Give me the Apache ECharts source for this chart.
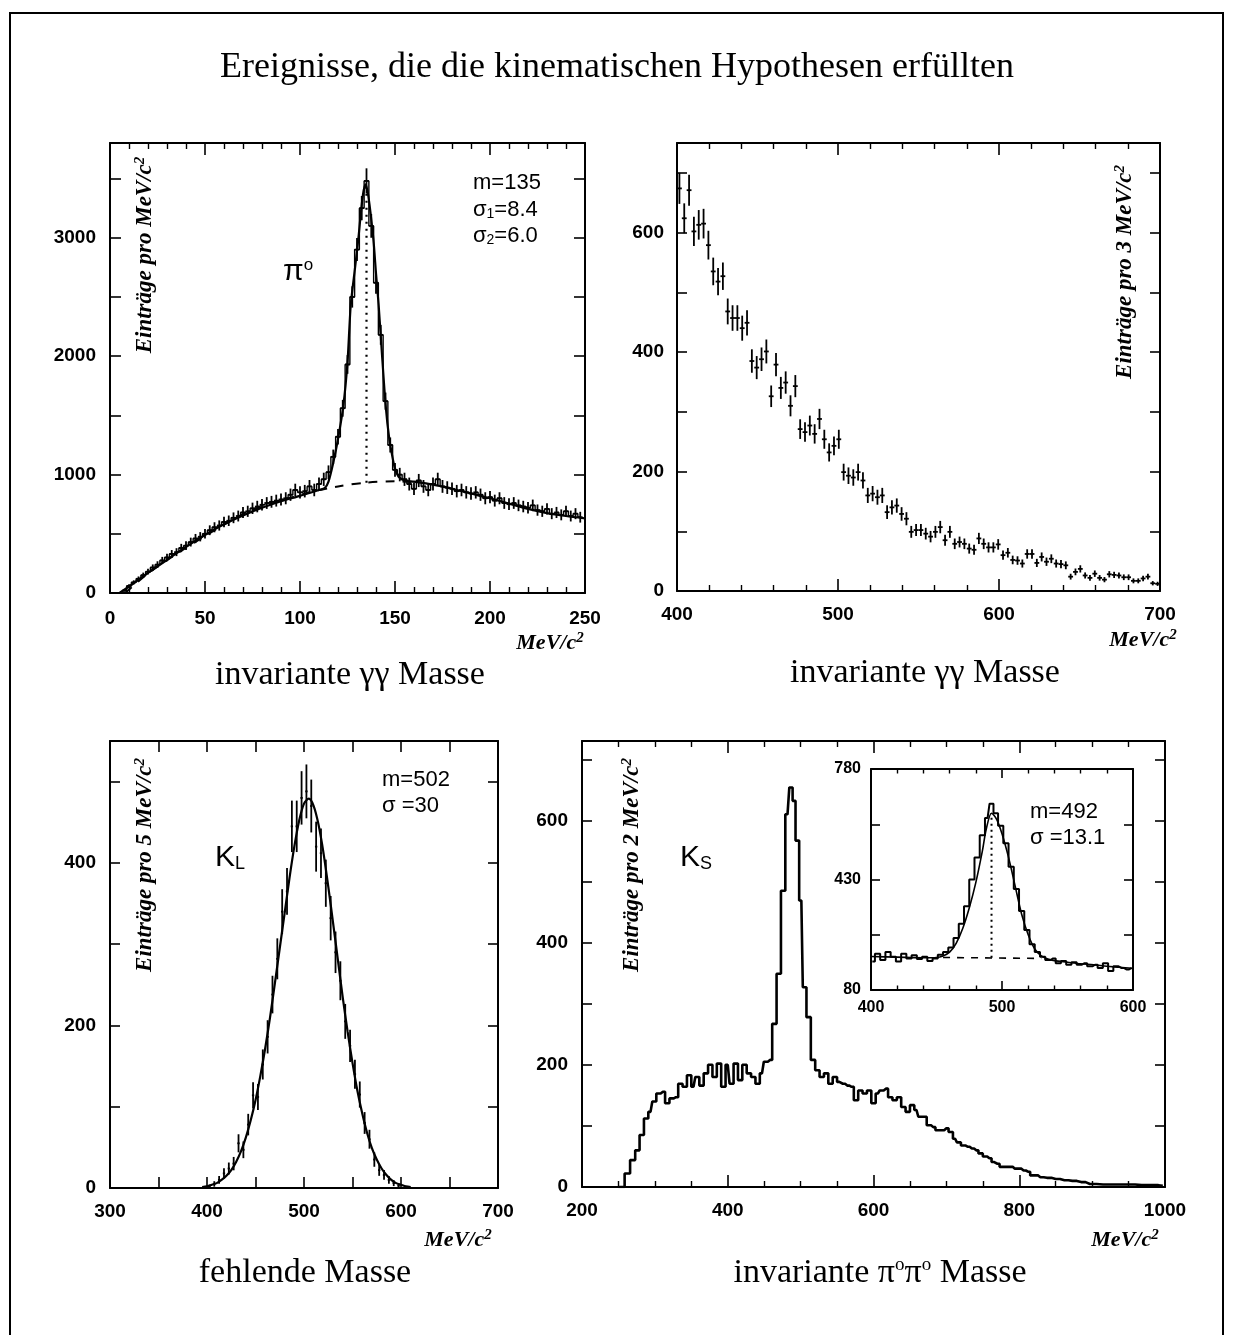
<!DOCTYPE html>
<html><head><meta charset="utf-8">
<script src="https://cdn.jsdelivr.net/npm/echarts@6/dist/echarts.min.js"></script>
<style>html,body{margin:0;padding:0;background:#fff}#c{width:1234px;height:1335px}</style>
</head><body><div id="c"></div><script>
// ---------- Texts ----------
const titleText = 'Ereignisse, die die kinematischen Hypothesen erfüllten';

// ---------- Panel 1: invariant gamma-gamma mass (pi0) ----------
const pi0Mass = [7.5,10,12.5,15,17.5,20,22.5,25,27.5,30,32.5,35,37.5,40,42.5,45,47.5,50,52.5,55,57.5,60,62.5,65,67.5,70,72.5,75,77.5,80,82.5,85,87.5,90,92.5,95,97.5,100,102.5,105,107.5,110,112.5,115,117.5,120,122.5,125,127.5,130,132.5,135,137.5,140,142.5,145,147.5,150,152.5,155,157.5,160,162.5,165,167.5,170,172.5,175,177.5,180,182.5,185,187.5,190,192.5,195,197.5,200,202.5,205,207.5,210,212.5,215,217.5,220,222.5,225,227.5,230,232.5,235,237.5,240,242.5,245,247.5];
const pi0Counts = [20,60,90,120,150,180,215,240,275,300,330,345,380,400,430,460,475,500,530,555,570,600,610,635,650,680,690,715,730,745,760,770,780,790,800,830,870,850,860,900,870,920,960,1020,1150,1320,1560,1930,2500,2900,3250,3480,3100,2620,2180,1620,1250,1040,1000,960,920,880,950,900,870,920,960,900,890,880,860,870,850,840,850,830,800,810,780,800,760,750,760,740,730,720,740,700,690,710,670,680,660,690,650,670,640];
const pi0FitMass = [5,10,20,30,40,50,60,70,80,90,100,105,110,113,115,117.5,120,122.8,125,126.7,129,130.7,133,134.5,136,138.6,140,141.4,143,145.1,147,149,150,152,155,160,170,180,190,200,210,220,230,240,250];
const pi0FitCounts = [0,55,170,280,390,490,580,655,720,775,820,845,870,885,940,1100,1300,1580,1950,2430,2750,2990,3350,3450,3350,2990,2700,2430,2050,1580,1300,1120,1050,980,950,940,915,880,840,800,755,710,675,650,630];
const pi0BgMass = [8,20,35,50,70,90,105,120,135,150,160];
const pi0BgCounts = [0,165,330,480,665,780,850,900,932,943,935];
const pi0PeakLine = [[135, 932], [135, 3420]];

// ---------- Panel 2: invariant gamma-gamma mass 400-700 (3 MeV bins) ----------
const ggBinStart = 401.5, ggBinWidth = 3;
const ggCounts = [674,624,671,602,613,615,579,535,518,527,468,457,457,440,449,385,374,388,401,326,379,340,349,310,343,271,266,277,263,288,254,232,243,254,199,193,190,199,185,160,163,157,160,132,140,143,129,121,99,102,102,96,91,99,107,85,99,79,82,79,71,69,88,79,73,73,78,60,64,52,51,46,62,62,47,57,49,54,46,45,43,24,32,37,26,22,29,22,19,28,27,26,23,23,17,17,21,24,13,12];

// ---------- Panel 3: missing mass (K_L), 5 MeV bins ----------
const klMass = [402.5,407.5,412.5,417.5,422.5,427.5,432.5,437.5,442.5,447.5,452.5,457.5,462.5,467.5,472.5,477.5,482.5,487.5,492.5,497.5,502.5,507.5,512.5,517.5,522.5,527.5,532.5,537.5,542.5,547.5,552.5,557.5,562.5,567.5,572.5,577.5,582.5,587.5,592.5,597.5];
const klCounts = [2,5,10,18,24,30,55,47,78,114,112,152,186,238,282,340,365,445,445,480,488,470,420,412,375,332,290,255,205,175,140,115,80,60,35,22,16,10,6,3];
const klFitMass = [395,400,405,410,415,420,425,430,435,440,445,450,455,460,465,470,475,480,485,490,495,500,505,510,515,520,525,530,535,540,545,550,555,560,565,570,575,580,585,590,595,600,605,610];
const klFitCounts = [1,2,4,6,10,15,22,32,45,62,83,108,138,172,210,252,295,338,381,420,452,473,479,470,447,413,371,326,280,234,192,154,120,92,68,49,35,24,16,10,6,4,2,1];

// ---------- Panel 4: invariant pi0 pi0 mass (K_S) ----------
const ksMass = [250,255,262,270,276,282,288,294,299,305,311,317,323,329,335,341,347,353,358,364,370,376,382,388,394,400,405,411,417,423,429,435,441,447,452,458,464,470,476,482,487,491,495,501,505,511,517,523,529,535,541,547,553,558,564,570,576,582,588,594,600,606,611,617,623,629,635,641,647,653,659,664,670,676,682,688,694,700,706,712,717,723,729,735,741,747,753,759,765,770,776,782,788,794,800,806,812,818,823,829,838,850,862,873,885,897,915,932,950,968,985,997];
const ksCounts = [0,0,22,44,60,85,112,123,140,153,156,137,145,147,169,164,183,164,180,166,186,200,180,202,164,200,169,202,175,200,186,180,169,186,205,208,267,349,485,610,654,632,567,469,327,278,208,191,180,186,169,180,172,169,166,164,142,158,153,158,137,153,158,161,147,142,147,131,123,134,126,115,115,101,98,93,93,96,90,79,73,68,66,63,60,55,50,47,41,38,33,33,33,30,30,27,25,19,19,16,15,13,11,10,8,5,4,4,4,3,3,2];

// ---------- Inset: K_S peak region ----------
const insetMass = [401,405,409,413,417,421,425,429,433,437,441,445,449,453,457,461,465,469,473,477,481,485,489,492,495,499,503,507,511,515,519,523,527,531,535,539,543,547,551,555,559,563,567,571,575,579,583,587,591,595,599];
const insetCounts = [170,195,175,200,185,170,195,180,190,178,185,172,180,192,200,215,245,290,345,430,500,570,625,670,640,600,545,470,400,330,270,225,200,185,175,180,165,172,160,168,160,165,155,160,150,165,140,155,150,145,150];
const insetFitMass = [400,420,440,450,455,460,465,470,475,480,485,488,492,496,500,505,510,515,520,525,530,535,540,550,560,570,580,590,600];
const insetFitCounts = [186,184,182,183,188,200,228,275,340,420,520,590,640,620,575,500,410,320,255,210,188,178,173,168,163,160,155,152,148];
const insetBgMass = [455, 530];
const insetBgCounts = [183, 180];
const insetPeakLine = [[492, 182], [492, 640]];

// ---------- Tick label sets ----------
const p1YLabels = [0,1000,2000,3000];
const p2YLabels = [0,200,400,600];
const p3YLabels = [0,200,400];
const p4YLabels = [0,200,400,600];
const insetYLabels = [80,430,780];

// ---------- helpers ----------
const SANS = '"Liberation Sans", Arial, sans-serif';
const SERIF = '"Liberation Serif", "Times New Roman", serif';
const pairs = (xs, ys) => xs.map((x, i) => [x, ys[i]]);

function errRender(params, api) {
  const x = api.value(0), y = api.value(1), e = api.value(2), hw = api.value(3);
  const a = api.coord([x, y + e]), b = api.coord([x, Math.max(y - e, 0)]);
  const l = api.coord([x - hw, y]), r = api.coord([x + hw, y]);
  const st = { stroke: '#000', lineWidth: 1.8 };
  return { type: 'group', children: [
    { type: 'line', shape: { x1: a[0], y1: a[1], x2: b[0], y2: b[1] }, style: st },
    { type: 'line', shape: { x1: l[0], y1: l[1], x2: r[0], y2: r[1] }, style: st }
  ]};
}

const grids = [
  { left: 110, top: 143, width: 475, height: 450 },
  { left: 677, top: 143, width: 483, height: 448 },
  { left: 110, top: 741, width: 388, height: 447 },
  { left: 582, top: 741, width: 583, height: 446 },
  { left: 871, top: 769, width: 262, height: 221 }
];

function xAxes(g, min, max, interval, minorSplit, labelSet, fs, tickLen, margin) {
  const base = {
    gridIndex: g, type: 'value', min, max, interval,
    axisLine: { show: true, onZero: false, lineStyle: { color: '#000', width: 2 } },
    axisTick: { show: true, inside: true, length: tickLen, lineStyle: { color: '#000', width: 1.6 } },
    minorTick: { show: minorSplit > 1, splitNumber: minorSplit, length: tickLen / 2, lineStyle: { color: '#000', width: 1.4 } },
    splitLine: { show: false }
  };
  return [
    Object.assign({}, base, { position: 'bottom',
      axisLabel: { show: true, margin: margin, color: '#000', fontFamily: SANS, fontWeight: 'bold', fontSize: fs,
        showMinLabel: true, showMaxLabel: true,
        formatter: v => (labelSet === null || labelSet.indexOf(v) >= 0) ? String(v) : '' } }),
    Object.assign({}, base, { position: 'top', axisLabel: { show: false } })
  ];
}
function yAxes(g, min, max, interval, labelSet, fs, tickLen, margin) {
  const base = {
    gridIndex: g, type: 'value', min, max, interval,
    axisLine: { show: true, onZero: false, lineStyle: { color: '#000', width: 2 } },
    axisTick: { show: true, inside: true, length: tickLen, lineStyle: { color: '#000', width: 1.6 } },
    splitLine: { show: false }
  };
  return [
    Object.assign({}, base, { position: 'left',
      axisLabel: { show: true, margin: margin, color: '#000', fontFamily: SANS, fontWeight: 'bold', fontSize: fs,
        showMaxLabel: labelSet.indexOf(max) >= 0,
        formatter: v => labelSet.indexOf(v) >= 0 ? String(v) : '' } }),
    Object.assign({}, base, { position: 'right', axisLabel: { show: false } })
  ];
}

const xAxis = [].concat(
  xAxes(0, 0, 250, 50, 5, null, 19, 12, 16),
  xAxes(1, 400, 700, 100, 5, null, 19, 12, 14),
  xAxes(2, 300, 700, 50, 1, [300,400,500,600,700], 19, 11, 14),
  xAxes(3, 200, 1000, 200, 4, null, 19, 12, 14),
  xAxes(4, 400, 600, 100, 5, null, 16, 9, 10)
);
const yAxis = [].concat(
  yAxes(0, 0, 3800, 500, p1YLabels, 19, 11, 14),
  yAxes(1, 0, 750, 100, p2YLabels, 19, 10, 13),
  yAxes(2, 0, 550, 100, p3YLabels, 19, 10, 14),
  yAxes(3, 0, 730, 100, p4YLabels, 19, 10, 14),
  yAxes(4, 80, 780, 175, insetYLabels, 16, 9, 10)
);
// axis index helper: grid g uses xAxis 2g (bottom) and yAxis 2g (left)
const ax = g => ({ xAxisIndex: 2 * g, yAxisIndex: 2 * g });

const lineSeries = (g, data, opts) => Object.assign({ type: 'line', data, showSymbol: false, silent: true,
  lineStyle: { color: '#000', width: 2 }, z: 3 }, ax(g), opts || {});

const series = [
  // panel 1
  Object.assign({ type: 'custom', renderItem: errRender, clip: true, silent: true,
    data: pi0Mass.map((m, i) => [m, pi0Counts[i], Math.sqrt(pi0Counts[i]) * 1.8, 1.25]) }, ax(0)),
  lineSeries(0, pairs(pi0Mass, pi0Counts), { step: 'middle', lineStyle: { color: '#000', width: 1.4 } }),
  lineSeries(0, pairs(pi0FitMass, pi0FitCounts), { smooth: 0.25, lineStyle: { color: '#000', width: 2.2 } }),
  lineSeries(0, pairs(pi0BgMass, pi0BgCounts), { smooth: 0.3, lineStyle: { color: '#000', width: 2, type: [9, 8] } }),
  lineSeries(0, pi0PeakLine, { lineStyle: { color: '#000', width: 2.2, type: [2, 5] } }),
  // panel 2
  Object.assign({ type: 'custom', renderItem: errRender, clip: true, silent: true,
    data: ggCounts.map((c, i) => [ggBinStart + i * ggBinWidth, c, Math.sqrt(c), 1.5]) }, ax(1)),
  // panel 3
  Object.assign({ type: 'custom', renderItem: errRender, clip: true, silent: true,
    data: klMass.map((m, i) => [m, klCounts[i], Math.sqrt(klCounts[i]) * 1.5, 1.2]) }, ax(2)),
  lineSeries(2, pairs(klFitMass, klFitCounts), { smooth: 0.3, lineStyle: { color: '#000', width: 2.2 } }),
  // panel 4
  lineSeries(3, pairs(ksMass, ksCounts), { step: 'middle', lineStyle: { color: '#000', width: 2.6 } }),
  // inset
  lineSeries(4, pairs(insetMass, insetCounts), { step: 'middle', lineStyle: { color: '#000', width: 2 } }),
  lineSeries(4, pairs(insetFitMass, insetFitCounts), { smooth: 0.3, lineStyle: { color: '#000', width: 1.6 } }),
  lineSeries(4, pairs(insetBgMass, insetBgCounts), { lineStyle: { color: '#000', width: 1.6, type: [7, 7] } }),
  lineSeries(4, insetPeakLine, { lineStyle: { color: '#000', width: 2, type: [2, 4] } })
];

// ---------- texts ----------
const yNameFont = 'italic bold 23px ' + SERIF;
const supRich = {
  sup: { fontSize: 15, fontWeight: 'bold', fontStyle: 'italic', fontFamily: SERIF, verticalAlign: 'top', padding: [0, 0, 10, 0] }
};
function yName(x, y, label) {
  return { type: 'text', x, y, rotation: Math.PI / 2, silent: true, z: 10,
    style: { text: label + '{sup|2}', font: yNameFont, fill: '#000', textAlign: 'center', textVerticalAlign: 'middle', rich: supRich } };
}
function xName(x, y) {
  return { type: 'text', x, y, silent: true, z: 10,
    style: { text: 'MeV/c{sup|2}', font: 'italic bold 22px ' + SERIF, fill: '#000', textAlign: 'center', textVerticalAlign: 'middle', rich: supRich } };
}
const annFont = '22px ' + SANS;
const annRich = { sub: { fontSize: 14, fontFamily: SANS, verticalAlign: 'bottom', padding: [7, 0, 0, 0] },
                  subK: { fontSize: 18, fontFamily: SANS, verticalAlign: 'bottom', padding: [10, 0, 0, 0] },
                  sup: { fontSize: 17, fontFamily: SANS, verticalAlign: 'top', padding: [0, 0, 10, 0] } };
function ann(x, y, text, font) {
  return { type: 'text', x, y, silent: true, z: 10,
    style: { text, font: font || annFont, fill: '#000', textAlign: 'left', textVerticalAlign: 'middle', rich: annRich } };
}
const subFont = '34px ' + SERIF;
const serifRich = { sup: { fontSize: 19, fontFamily: SERIF, verticalAlign: 'top', padding: [0, 0, 14, 0] } };
function subTitle(x, y, text) {
  return { type: 'text', x, y, silent: true, z: 10,
    style: { text, font: subFont, fill: '#000', textAlign: 'center', textVerticalAlign: 'middle', rich: serifRich } };
}

const graphic = [
  { type: 'rect', shape: { x: 10, y: 13, width: 1213, height: 1340 }, style: { fill: 'none', stroke: '#000', lineWidth: 2 }, silent: true },
  { type: 'text', x: 617, y: 68, silent: true, style: { text: titleText, font: '36px ' + SERIF, fill: '#000', textAlign: 'center', textVerticalAlign: 'middle' } },
  subTitle(350, 675, 'invariante γγ Masse'),
  subTitle(925, 673, 'invariante γγ Masse'),
  subTitle(305, 1273, 'fehlende Masse'),
  subTitle(880, 1273, 'invariante π{sup|o}π{sup|o} Masse'),
  xName(550, 643), xName(1143, 640), xName(458, 1240), xName(1125, 1240),
  yName(145, 255, 'Einträge pro MeV/c'),
  yName(1125, 272, 'Einträge pro 3 MeV/c'),
  yName(145, 865, 'Einträge pro 5 MeV/c'),
  yName(632, 865, 'Einträge pro 2 MeV/c'),
  ann(473, 183, 'm=135'),
  ann(473, 210, 'σ{sub|1}=8.4'),
  ann(473, 236, 'σ{sub|2}=6.0'),
  ann(283, 272, 'π{sup|o}', '30px ' + SANS),
  ann(382, 780, 'm=502'),
  ann(382, 806, 'σ =30'),
  ann(215, 858, 'K{subK|L}', '30px ' + SANS),
  ann(680, 858, 'K{subK|S}', '30px ' + SANS),
  ann(1030, 812, 'm=492'),
  ann(1030, 838, 'σ =13.1')
];

const chart = echarts.init(document.getElementById('c'), null, { renderer: 'canvas' });
chart.setOption({ animation: false, backgroundColor: '#fff', grid: grids, xAxis, yAxis, series, graphic });
</script></body></html>
